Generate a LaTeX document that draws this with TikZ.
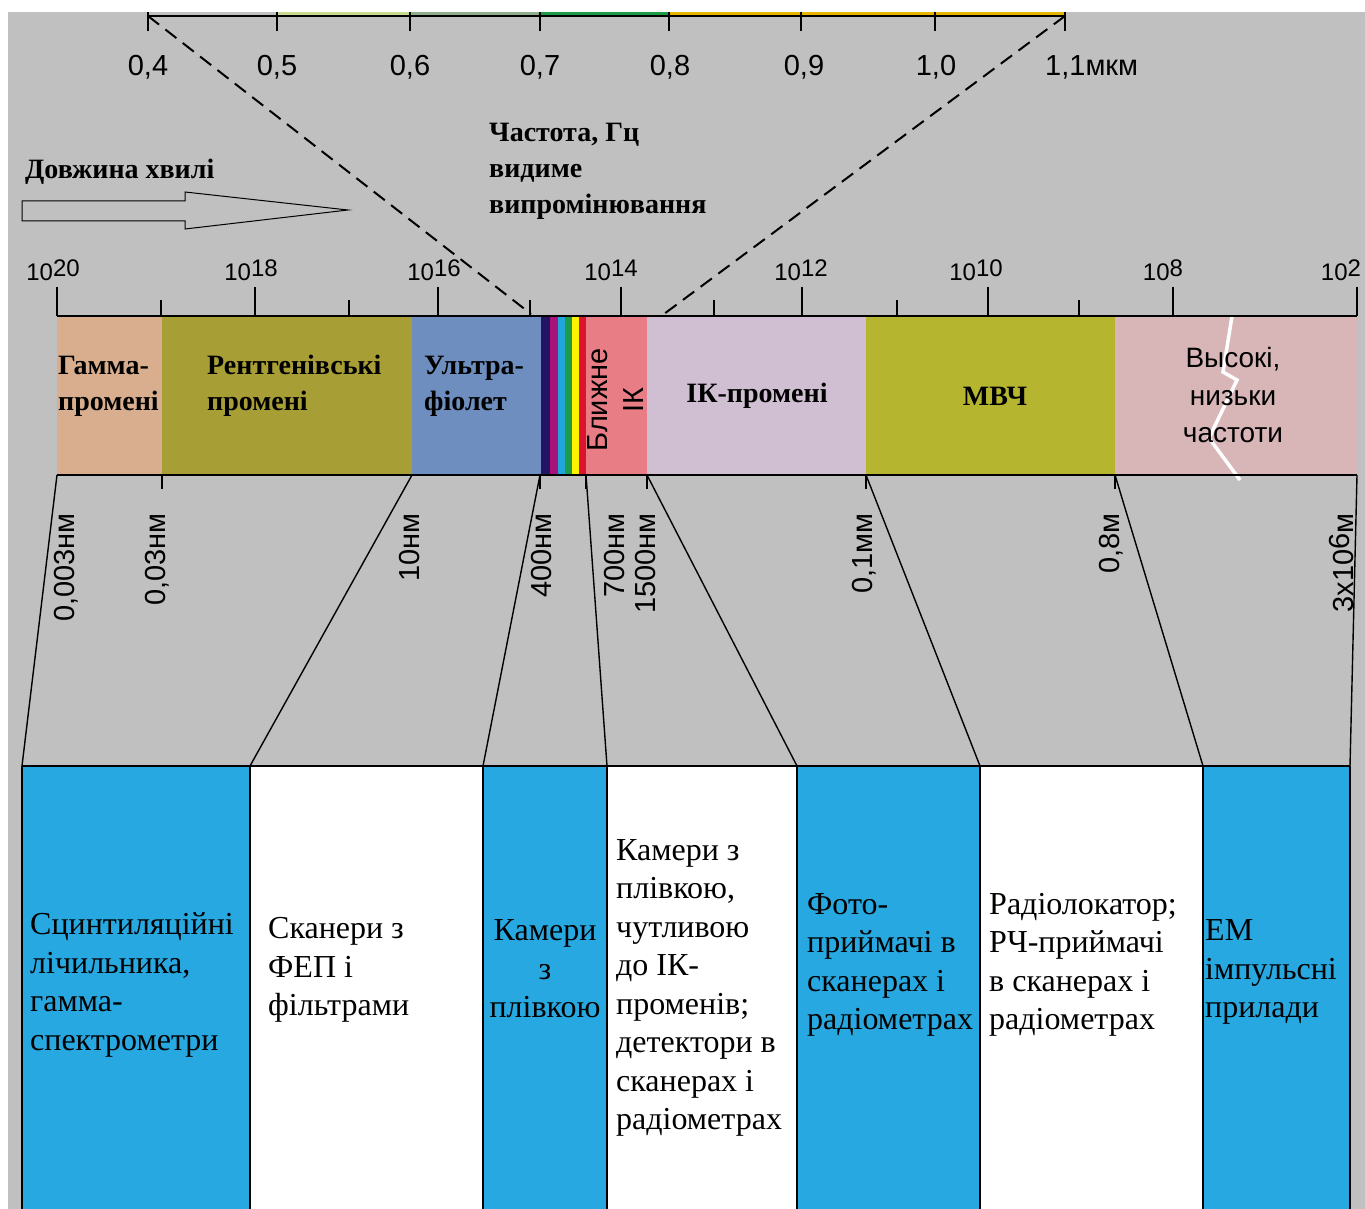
\documentclass[tikz,border=0pt]{standalone}
\usepackage{fontspec}
\setmainfont{Liberation Serif}
\setsansfont{Liberation Sans}
\usepackage{tikz}

\definecolor{fondo}{HTML}{C0C0C0}
\definecolor{vis1}{HTML}{C8DA90}
\definecolor{vis2}{HTML}{90AE8C}
\definecolor{vis3}{HTML}{1E9A46}
\definecolor{vis4}{HTML}{E8B400}
\definecolor{gamma}{HTML}{D8AE8E}
\definecolor{rentgen}{HTML}{A89E36}
\definecolor{ultra}{HTML}{6E8EC0}
\definecolor{cercano}{HTML}{E97D85}
\definecolor{infra}{HTML}{D0BED3}
\definecolor{micro}{HTML}{B5B52F}
\definecolor{radio}{HTML}{D8B6B8}
\definecolor{caja}{HTML}{28A8E0}
\definecolor{arc1}{HTML}{241466}
\definecolor{arc2}{HTML}{A8137A}
\definecolor{arc3}{HTML}{21A6DA}
\definecolor{arc4}{HTML}{1E9A48}
\definecolor{arc5}{HTML}{FFF200}
\definecolor{arc6}{HTML}{D9142C}

\begin{document}
\begin{tikzpicture}[x=1pt,y=-1pt,
    escala/.style={font=\sffamily\fontsize{29}{34}\selectfont, inner sep=0},
    frec/.style={font=\sffamily\fontsize{24}{28}\selectfont, inner sep=0, anchor=base},
    banda/.style={font=\bfseries\fontsize{28}{36}\selectfont, align=left, inner sep=0, anchor=west},
    longitud/.style={font=\sffamily\fontsize{29}{34}\selectfont, inner sep=0, rotate=90, anchor=east},
    uso/.style={font=\fontsize{32}{38.5}\selectfont, align=left, inner sep=0, anchor=west},
    titulo/.style={font=\bfseries\fontsize{28}{36}\selectfont, align=left, inner sep=0, anchor=west}]
        \useasboundingbox (0,0) rectangle (1365,1209);
        \fill[fondo] (8,12) rectangle (1365,1209);

        %escala del espectro visible
        \fill[vis1] (277,12) rectangle (410,16);
        \fill[vis2] (410,12) rectangle (540,16);
        \fill[vis3] (540,12) rectangle (669,16);
        \fill[vis4] (669,12) rectangle (1065,16);
        \draw[line width=1.6pt] (148,16) -- (1065,16);
        \foreach \x in {148,277,410,540,669,801,935,1065}
            \draw[line width=1.2pt] (\x,12) -- (\x,31);
        \node[escala] (t04) at (148,67) {0,4};
        \node[escala] (t05) at (277,67) {0,5};
        \node[escala] (t06) at (410,67) {0,6};
        \node[escala] (t07) at (540,67) {0,7};
        \node[escala] (t08) at (670,67) {0,8};
        \node[escala] (t09) at (804,67) {0,9};
        \node[escala] (t10) at (936,67) {1,0};
        \node[escala, anchor=west] (t11) at (1045,67) {1,1мкм};

        %lineas que unen la escala con la franja visible
        \coordinate (v04) at (148,16);
        \coordinate (v11) at (1065,16);
        \coordinate (vl) at (531,314);
        \coordinate (vr) at (664,314);
        \draw[line width=2pt, dash pattern=on 14pt off 8pt] (v04) -- (vl);
        \draw[line width=2pt, dash pattern=on 14pt off 8pt] (v11) -- (vr);

        %textos y flecha
        \node[titulo] (onda) at (25,172) {Довжина хвилі};
        \draw[line width=1pt] (22,201) -- (185,201) -- (185,192) -- (348,210)
            -- (185,229) -- (185,221) -- (22,221) -- cycle;
        \node[titulo] (frecuencia) at (489,171) {Частота, Гц\\видиме\\випромінювання};

        %escala de frecuencias
        \foreach \x in {57,255,438,621,802,988,1173,1357}
            \draw[line width=1.2pt] (\x,287) -- (\x,316);
        \foreach \x in {161,349,530,714,897,1079}
            \draw[line width=1.2pt] (\x,300) -- (\x,316);
        \node[frec] (f20) at (53,280) {10\raisebox{4pt}{20}};
        \node[frec] (f18) at (251,280) {10\raisebox{4pt}{18}};
        \node[frec] (f16) at (434,280) {10\raisebox{4pt}{16}};
        \node[frec] (f14) at (611,280) {10\raisebox{4pt}{14}};
        \node[frec] (f12) at (801,280) {10\raisebox{4pt}{12}};
        \node[frec] (f10) at (976,280) {10\raisebox{4pt}{10}};
        \node[frec] (f08) at (1163,280) {10\raisebox{4pt}{8}};
        \node[frec] (f02) at (1341,280) {10\raisebox{4pt}{2}};

        %franjas del espectro
        \fill[gamma] (57,316) rectangle (162,475);
        \fill[rentgen] (162,316) rectangle (412,475);
        \fill[ultra] (412,316) rectangle (541,475);
        \fill[arc1] (541,316) rectangle (550,475);
        \fill[arc2] (550,316) rectangle (558,475);
        \fill[arc3] (558,316) rectangle (565,475);
        \fill[arc4] (565,316) rectangle (572,475);
        \fill[arc5] (572,316) rectangle (579,475);
        \fill[arc6] (579,316) rectangle (586,475);
        \fill[cercano] (586,316) rectangle (647,475);
        \fill[infra] (647,316) rectangle (866,475);
        \fill[micro] (866,316) rectangle (1115,475);
        \fill[radio] (1115,316) rectangle (1357,475);
        \draw[white, line width=3.5pt] (1232,316) -- (1223,372) -- (1237,380)
            -- (1209,438) -- (1240,480);
        \draw[line width=1.5pt] (57,316) -- (1357,316);
        \draw[line width=1.5pt] (57,475) -- (1357,475);

        \node[banda] (gam) at (58,386) {Гамма-\\промені};
        \node[banda] (ren) at (207,386) {Рентгенівські\\промені};
        \node[banda] (ult) at (424,386) {Ультра-\\фіолет};
        \node[font=\sffamily\fontsize{29}{36}\selectfont, inner sep=0, rotate=90, align=center]
            (bli) at (616,400) {Ближне\\ІК};
        \node[banda, anchor=center] (ikp) at (757,396) {ІК-промені};
        \node[banda, anchor=center] (mvc) at (995,396) {МВЧ};
        \node[font=\sffamily\fontsize{28}{37.5}\selectfont, inner sep=0, align=center]
            (vys) at (1233,395) {Высокі,\\низьки\\частоти};

        %longitudes de onda
        \node[longitud] (l1) at (66,513) {0,003нм};
        \node[longitud] (l2) at (157,513) {0,03нм};
        \node[longitud] (l3) at (410,513) {10нм};
        \node[longitud] (l4) at (542,513) {400нм};
        \node[longitud] (l5) at (615,513) {700нм};
        \node[longitud] (l6) at (646,513) {1500нм};
        \node[longitud] (l7) at (864,513) {0,1мм};
        \node[longitud] (l8) at (1111,513) {0,8м};
        \node[longitud] (l9) at (1341,513) {3x10\raisebox{4pt}{6}м};

        %cajas de los instrumentos
        \fill[caja] (22,766) rectangle (250,1209);
        \fill[white] (250,766) rectangle (483,1209);
        \fill[caja] (483,766) rectangle (607,1209);
        \fill[white] (607,766) rectangle (797,1209);
        \fill[caja] (797,766) rectangle (980,1209);
        \fill[white] (980,766) rectangle (1203,1209);
        \fill[caja] (1203,766) rectangle (1350,1209);
        \draw[line width=2pt] (22,766) -- (1350,766);
        \foreach \x in {22,250,483,607,797,980,1203,1350}
            \draw[line width=1.8pt] (\x,766) -- (\x,1209);

        %rectas que unen las franjas con las cajas
        \coordinate (a1) at (57,475);   \coordinate (c1) at (22,766);
        \coordinate (a2) at (412,475);  \coordinate (c2) at (250,766);
        \coordinate (a3) at (540,475);  \coordinate (c3) at (483,766);
        \coordinate (a4) at (586,475);  \coordinate (c4) at (607,766);
        \coordinate (a5) at (647,475);  \coordinate (c5) at (797,766);
        \coordinate (a6) at (866,475);  \coordinate (c6) at (980,766);
        \coordinate (a7) at (1115,475); \coordinate (c7) at (1203,766);
        \coordinate (a8) at (1357,475); \coordinate (c8) at (1350,766);
        \draw[line width=1.4pt] (a1) -- (c1);
        \draw[line width=1.4pt] (a2) -- (c2);
        \draw[line width=1.4pt] (a3) -- (c3);
        \draw[line width=1.4pt] (a4) -- (c4);
        \draw[line width=1.4pt] (a5) -- (c5);
        \draw[line width=1.4pt] (a6) -- (c6);
        \draw[line width=1.4pt] (a7) -- (c7);
        \draw[line width=1.4pt] (a8) -- (c8);
        \foreach \x in {162,540,586,647,866,1115}
            \draw[line width=1.4pt] (\x,475) -- (\x,489);

        \node[uso] (u1) at (30,985) {Сцинтиляційні\\лічильника,\\гамма-\\спектрометри};
        \node[uso] (u2) at (268,970) {Сканери з\\ФЕП і\\фільтрами};
        \node[uso, align=center, anchor=center] (u3) at (545,969) {Камери\\з\\плівкою};
        \node[uso] (u4) at (616,988) {Камери з\\плівкою,\\чутливою\\до ІК-\\променів;\\детектори в\\сканерах і\\радіометрах};
        \node[uso] (u5) at (807,965) {Фото-\\приймачі в\\сканерах і\\радіометрах};
        \node[uso] (u6) at (989,965) {Радіолокатор;\\РЧ-приймачі\\в сканерах і\\радіометрах};
        \node[uso] (u7) at (1205,972) {ЕМ\\імпульсні\\прилади};
    \end{tikzpicture}
\end{document}
